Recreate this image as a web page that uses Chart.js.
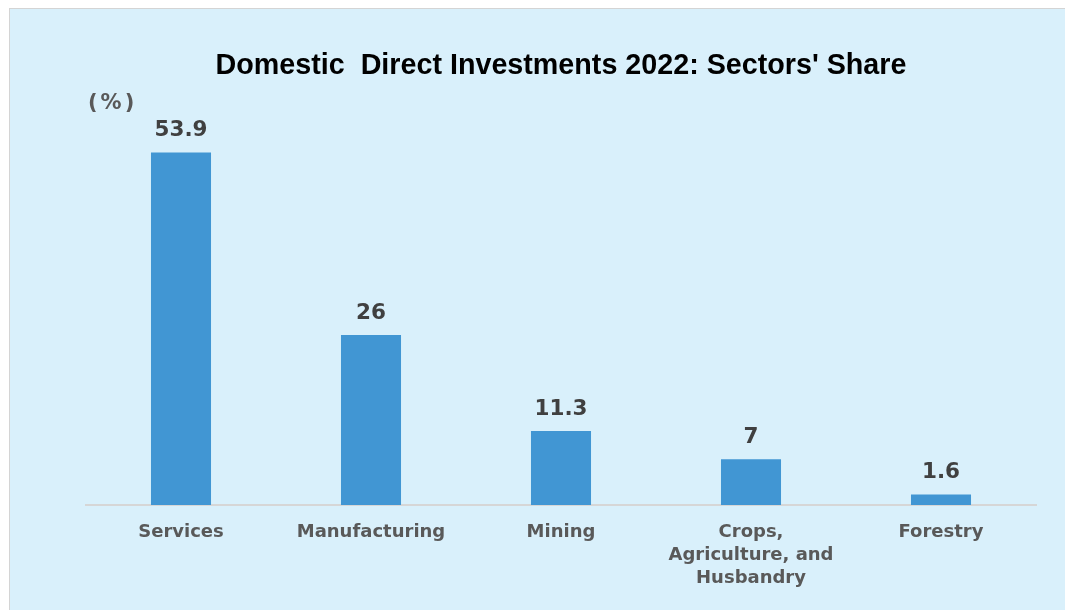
<!DOCTYPE html>
<html><head><meta charset="utf-8">
<script src="https://cdn.jsdelivr.net/npm/chart.js@4"></script>
<style>
html,body{margin:0;padding:0;background:#fff;width:1065px;height:610px;overflow:hidden;}
#panel{position:absolute;left:9px;top:8px;width:1056px;height:602px;box-sizing:border-box;border-left:1px solid #d4d4d4;border-top:1px solid #d4d4d4;background:#d9f0fb;}
#wrap{position:absolute;left:0;top:0;width:1055px;height:601px;}
</style></head>
<body>
<div id="panel"><div id="wrap"><canvas id="c"></canvas></div></div>
<script>
const categories = ["Services", "Manufacturing", "Mining", ["Crops,", "Agriculture, and", "Husbandry"], "Forestry"];
const shares = [53.9, 26, 11.3, 7, 1.6];
const valueLabels = ["53.9", "26", "11.3", "7", "1.6"];
const chartTitle = "Domestic  Direct Investments 2022: Sectors' Share";
const unitLabel = "(%)";

const labelPlugin = {
  id: 'labels',
  afterDatasetsDraw(chart) {
    const ctx = chart.ctx;
    const meta = chart.getDatasetMeta(0);
    ctx.save();
    ctx.font = 'bold 21.5px "DejaVu Sans"';
    ctx.fillStyle = '#404040';
    ctx.textAlign = 'center';
    ctx.textBaseline = 'middle';
    meta.data.forEach((bar, i) => {
      ctx.fillText(valueLabels[i], bar.x, bar.y - 22);
    });
    ctx.font = 'bold 21px "DejaVu Sans"';
    ctx.letterSpacing = '3px';
    ctx.fillStyle = '#595959';
    ctx.textAlign = 'left';
    ctx.fillText(unitLabel, 78, 95);
    ctx.restore();
  }
};

new Chart(document.getElementById('c'), {
  type: 'bar',
  data: {
    labels: categories,
    datasets: [{
      data: shares,
      backgroundColor: '#4196d3',
      borderWidth: 0,
      barPercentage: 0.632,
      categoryPercentage: 0.5
    }]
  },
  options: {
    responsive: true,
    maintainAspectRatio: false,
    animation: false,
    layout: { padding: { top: 0, left: 76, right: 29, bottom: 0 } },
    plugins: {
      legend: { display: false },
      tooltip: { enabled: false },
      title: {
        display: true,
        text: chartTitle,
        color: '#000',
        font: { family: '"Liberation Sans"', weight: 'bold', size: 28.7, lineHeight: 1.0 },
        padding: { top: 43, bottom: 32 }
      }
    },
    scales: {
      y: { display: false, min: 0, max: 60 },
      x: {
        grid: { display: false },
        border: { color: '#d6d6d6', width: 2 },
        ticks: {
          color: '#595959',
          font: { family: '"DejaVu Sans"', weight: 'bold', size: 18, lineHeight: 1.28 },
          padding: 8,
          maxRotation: 0,
          autoSkip: false
        },
        afterFit(scale) { scale.height = 105; }
      }
    }
  },
  plugins: [labelPlugin]
});
</script>
</body></html>
